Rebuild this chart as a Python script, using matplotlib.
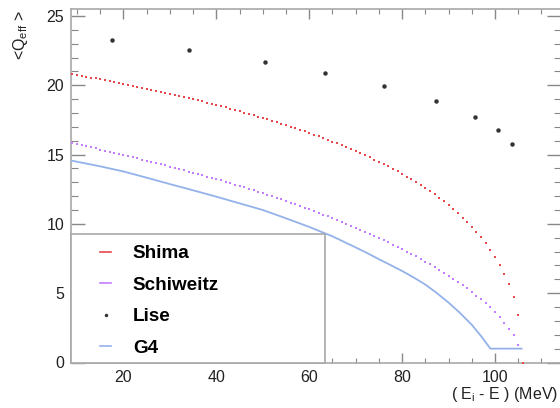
import matplotlib
matplotlib.use('Agg')
import matplotlib.pyplot as plt
from matplotlib.ticker import MultipleLocator
from matplotlib.patches import Rectangle
from matplotlib.lines import Line2D

plt.rcParams['font.family'] = ['Liberation Sans', 'DejaVu Sans']

# energy loss (MeV) at which the charge states were evaluated
shima_x = list(range(9, 107))
shima_q = [20.80, 20.74, 20.68, 20.62, 20.55, 20.49, 20.43, 20.36, 20.30, 20.23,
           20.16, 20.10, 20.03, 19.96, 19.89, 19.82, 19.75, 19.68, 19.61, 19.53,
           19.46, 19.38, 19.31, 19.23, 19.15, 19.07, 18.99, 18.91, 18.83, 18.75,
           18.66, 18.58, 18.49, 18.40, 18.31, 18.22, 18.13, 18.03, 17.94, 17.84,
           17.74, 17.64, 17.54, 17.44, 17.33, 17.23, 17.12, 17.01, 16.90, 16.79,
           16.67, 16.55, 16.43, 16.31, 16.19, 16.06, 15.93, 15.80, 15.67, 15.53,
           15.39, 15.25, 15.10, 14.95, 14.80, 14.64, 14.48, 14.31, 14.14, 13.97,
           13.79, 13.60, 13.41, 13.21, 13.00, 12.79, 12.57, 12.35, 12.12, 11.88,
           11.62, 11.35, 11.06, 10.76, 10.44, 10.11, 9.77, 9.41, 9.03, 8.60,
           8.13, 7.62, 7.05, 6.40, 5.63, 4.70, 3.45, 0.0]

schiweitz_x = list(range(9, 106))
schiweitz_q = [15.83, 15.75, 15.67, 15.60, 15.52, 15.44, 15.36, 15.28, 15.20, 15.12,
               15.04, 14.96, 14.88, 14.80, 14.72, 14.64, 14.55, 14.47, 14.39, 14.30,
               14.22, 14.13, 14.04, 13.95, 13.86, 13.77, 13.68, 13.59, 13.50, 13.41,
               13.32, 13.23, 13.13, 13.04, 12.94, 12.84, 12.74, 12.64, 12.54, 12.44,
               12.33, 12.21, 12.10, 11.99, 11.88, 11.76, 11.65, 11.53, 11.41, 11.29,
               11.17, 11.05, 10.93, 10.80, 10.67, 10.54, 10.41, 10.28, 10.14, 10.00,
               9.86, 9.72, 9.58, 9.43, 9.28, 9.13, 8.98, 8.82, 8.66, 8.50,
               8.34, 8.17, 8.00, 7.83, 7.65, 7.46, 7.27, 7.08, 6.88, 6.67,
               6.46, 6.25, 6.03, 5.81, 5.58, 5.34, 5.09, 4.83, 4.57, 4.29,
               3.99, 3.65, 3.27, 2.86, 2.42, 1.95, 1.27]

lise_x = [17.5, 34.1, 50.5, 63.4, 76.1, 87.3, 95.7, 100.6, 103.6]
lise_q = [23.27, 22.55, 21.69, 20.89, 19.96, 18.88, 17.72, 16.79, 15.78]

g4_x = [8.7, 15, 20, 25, 30, 35, 40, 45, 50, 55, 60, 65, 70, 72.5, 75, 77.5, 80,
        82.5, 85, 87.5, 90, 92.5, 95, 97, 99, 105.7]
g4_q = [14.57, 14.15, 13.78, 13.33, 12.87, 12.42, 11.96, 11.48, 11.00, 10.40,
        9.78, 9.10, 8.30, 7.89, 7.45, 7.03, 6.60, 6.13, 5.62, 5.00, 4.32, 3.56,
        2.72, 1.90, 1.0, 1.0]

red = '#e8484c'
violet = '#c57dff'
blue = '#94b2ea'
dark = '#333333'
grey = '#a8a8a8'

fig = plt.figure(figsize=(5.6, 4.08), dpi=100)
ax = fig.add_axes([71/560, 45.5/408, 490/560, 353.5/408])

ax.plot(g4_x, g4_q, '-', color=blue, lw=1.3, zorder=3)
ax.plot(schiweitz_x, schiweitz_q, 's', color=violet, ms=1.8, mew=0, zorder=3)
ax.plot(shima_x, shima_q, 's', color=red, ms=1.9, mew=0, zorder=3, clip_on=False)
ax.plot(lise_x, lise_q, 'o', color=dark, ms=3.2, mew=0, zorder=3)

ax.set_xlim(8.7, 114.2)
ax.set_ylim(0, 25.5)
ax.xaxis.set_major_locator(MultipleLocator(20))
ax.xaxis.set_minor_locator(MultipleLocator(5))
ax.yaxis.set_major_locator(MultipleLocator(5))
ax.yaxis.set_minor_locator(MultipleLocator(1))
ax.tick_params(which='both', direction='in', top=True, right=True, color='#888888',
               labelsize=11.5, labelcolor='#222222')
ax.tick_params(axis='x', which='major', length=7, width=1, pad=5.5)
ax.tick_params(axis='x', which='minor', length=3.6, width=0.8)
ax.tick_params(axis='y', which='major', length=10, width=1, pad=5)
ax.tick_params(axis='y', which='minor', length=5, width=0.8)
for sp in ax.spines.values():
    sp.set_color(grey)
    sp.set_linewidth(1.2)

# legend box in the lower left corner
ax.add_patch(Rectangle((0, 0), 0.518, 0.3635, transform=ax.transAxes,
                       facecolor='white', edgecolor=grey, lw=1.2, zorder=4, clip_on=False))
handles = [Line2D([], [], color=red, lw=1.2),
           Line2D([], [], color=violet, lw=1.2),
           Line2D([], [], ls='none', marker='o', color=dark, ms=2.5, mew=0),
           Line2D([], [], color=blue, lw=1.2)]
leg = ax.legend(handles, ['Shima', 'Schiweitz', 'Lise', 'G4'], loc='upper left',
                bbox_to_anchor=(0.059, 0.332), frameon=False, borderpad=0, borderaxespad=0,
                handlelength=0.6, handletextpad=1.15, labelspacing=0.75,
                prop={'weight': 'bold', 'size': 13.6})
leg.set_zorder(5)

fig.text(21/560, 1 - 10/408, '<Q$_{\\mathregular{eff}}$ >', rotation=90, ha='center', va='top',
         fontsize=11.5, color='#222222')
fig.text(558/560, 1 - 399/408, '( E$_{\\mathregular{i}}$ - E ) (MeV)', ha='right', va='baseline',
         fontsize=11.5, color='#222222')

fig.savefig('out.png', dpi=100)
